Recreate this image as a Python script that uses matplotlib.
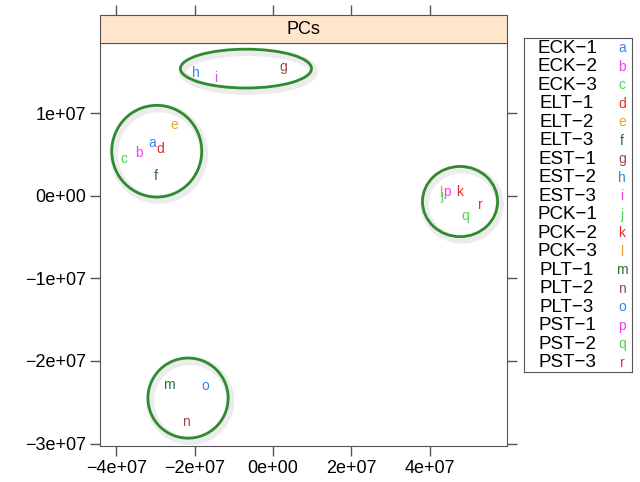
import numpy as np
import matplotlib
matplotlib.use("Agg")
import matplotlib.pyplot as plt
from matplotlib.patches import Ellipse
import matplotlib.patheffects as pe

plt.rcParams["font.family"] = ["Liberation Sans", "DejaVu Sans"]

# ---------------- data ----------------
samples = ["ECK\u22121", "ECK\u22122", "ECK\u22123", "ELT\u22121", "ELT\u22122", "ELT\u22123",
           "EST\u22121", "EST\u22122", "EST\u22123", "PCK\u22121", "PCK\u22122", "PCK\u22123",
           "PLT\u22121", "PLT\u22122", "PLT\u22123", "PST\u22121", "PST\u22122", "PST\u22123"]
letters = list("abcdefghijklmnopqr")
pc1 = np.array([-30.9, -34.3, -38.1, -28.9, -25.1, -29.9,
                2.6, -19.7, -14.6, 43.2, 47.6, 42.8,
                -26.6, -22.3, -17.4, 44.5, 49.1, 52.9]) * 1e6
pc2 = np.array([6.4, 5.2, 4.5, 5.7, 8.6, 2.4,
                15.6, 14.9, 14.3, 0.0, 0.5, 0.3,
                -22.9, -27.4, -23.0, 0.4, -2.5, -1.1]) * 1e6
palette = ["#2f86f0", "#f040f0", "#4fd44f", "#ee2a2a", "#f0a030", "#2f6b3a", "#a04848"]

# hand-drawn group outlines (centre x, centre y, width, height)
groups_cx = np.array([-6.9, -29.7, 47.8, -21.7]) * 1e6
groups_cy = np.array([15.4, 5.4, -0.7, -24.5]) * 1e6
groups_w = np.array([33.5, 23.0, 19.2, 20.5]) * 1e6
groups_h = np.array([4.7, 11.1, 8.5, 9.7]) * 1e6

xticks = [-4e7, -2e7, 0, 2e7, 4e7]
xticklabels = ["\u22124e+07", "\u22122e+07", "0e+00", "2e+07", "4e+07"]
yticks = [1e7, 0, -1e7, -2e7, -3e7]
yticklabels = ["1e+07", "0e+00", "\u22121e+07", "\u22122e+07", "\u22123e+07"]

# ---------------- figure ----------------
W, H = 640, 482
fig = plt.figure(figsize=(W / 100, H / 100), dpi=100)
edge = "#555555"

def fx(p):
    return p / W

def fy(p):
    return 1 - p / H

L, R, T, B, ST = 100, 507, 43, 446, 15
ax = fig.add_axes([fx(L), fy(B), fx(R - L), fy(T) - fy(B)])
strip = fig.add_axes([fx(L), fy(T), fx(R - L), fy(ST) - fy(T)])

xlim = (-44.2e6, 59.8e6)
ylim = (-30.3e6, 18.5e6)
ax.set_xlim(*xlim)
ax.set_ylim(*ylim)

for i, (x, y) in enumerate(zip(pc1, pc2)):
    ax.text(x, y, letters[i], color=palette[i % 7], fontsize=10,
            ha="center", va="center")

for cx, cy, w, h in zip(groups_cx, groups_cy, groups_w, groups_h):
    e = Ellipse((cx, cy), w, h, fill=False, edgecolor="#2e8b2e", lw=2.0,
                path_effects=[pe.SimpleLineShadow(offset=(1.5, -2), shadow_color="#999999",
                                                  alpha=0.18, linewidth=6),
                              pe.Normal()])
    ax.add_patch(e)

ax.set_xticks(xticks)
ax.set_xticklabels(xticklabels)
ax.set_yticks(yticks)
ax.set_yticklabels(yticklabels)
ax.tick_params(axis="both", direction="out", length=7, width=1, color=edge,
               labelsize=13, pad=3)
ax.tick_params(axis="y", right=True, labelright=False)
ax.tick_params(axis="x", top=False)
for s in ax.spines.values():
    s.set_color(edge)

# strip with top ticks
strip.set_facecolor("#ffe5cc")
strip.set_xlim(*xlim)
strip.set_ylim(0, 1)
strip.set_xticks(xticks)
strip.set_yticks([])
strip.tick_params(axis="x", bottom=False, labelbottom=False, top=True,
                  direction="out", length=7, width=1, color=edge)
for s in strip.spines.values():
    s.set_color(edge)
strip.text(0.5, 0.5, "PCs", transform=strip.transAxes, ha="center",
           va="center", fontsize=13)

# legend
lx0, lx1, ly0, ly1 = 524, 632, 38, 372
leg = fig.add_axes([fx(lx0), fy(ly1), fx(lx1 - lx0), fy(ly0) - fy(ly1)])
leg.set_xlim(lx0, lx1)
leg.set_ylim(ly1, ly0)
leg.set_xticks([])
leg.set_yticks([])
for s in leg.spines.values():
    s.set_color(edge)
row0, drow = 48.5, 18.5
for i, name in enumerate(samples):
    yy = row0 + i * drow
    leg.text(567, yy, name, ha="center", va="center", fontsize=13.5)
    leg.text(622, yy, letters[i], ha="center", va="center", fontsize=10,
             color=palette[i % 7])

fig.savefig("out.png", dpi=100)
